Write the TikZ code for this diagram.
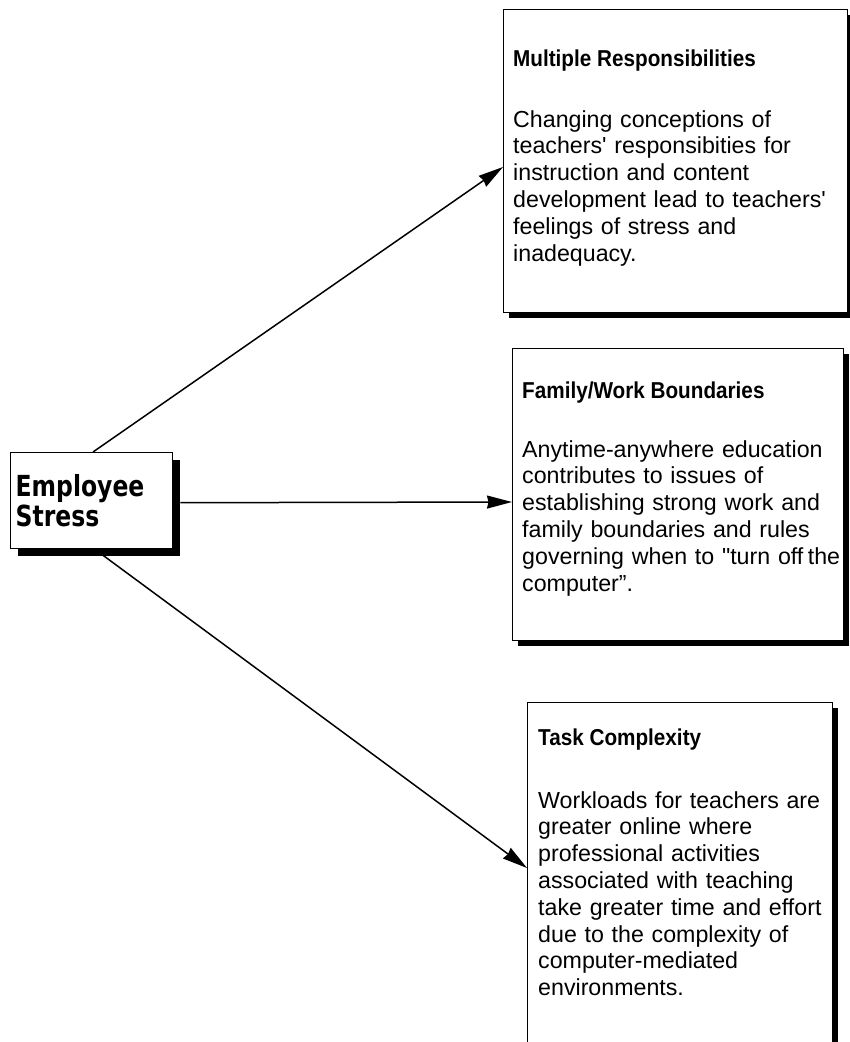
\documentclass[tikz,border=0pt]{standalone}
\usepackage{fontspec}
\newfontfamily\cardfont{Liberation Sans}
\newfontfamily\cardtitlefont[FakeStretch=0.9]{Liberation Sans}
\newfontfamily\empfont[FakeStretch=0.81]{DejaVu Sans}
\usetikzlibrary{arrows.meta,shadows}

\tikzset{
  card/.style={draw=black, line width=1.4pt, fill=white, anchor=north west,
    inner sep=0pt,
    drop shadow={shadow xshift=5pt, shadow yshift=-5pt, opacity=1, fill=black}},
  cardtitle/.style={font=\cardtitlefont\bfseries\fontsize{23}{26}\selectfont,
    anchor=base west, inner sep=0pt},
  cardbody/.style={font=\cardfont\fontsize{23.2}{26.8}\selectfont,
    text width=330pt, align=left, anchor=base west, inner sep=0pt},
  causebox/.style={draw=black, line width=1.4pt, fill=white, anchor=north west,
    minimum width=162pt, minimum height=96pt, text width=152pt, align=left,
    inner xsep=5pt, inner ysep=0pt,
    font=\empfont\bfseries\fontsize{29}{30}\selectfont,
    drop shadow={shadow xshift=7pt, shadow yshift=-7pt, opacity=1, fill=black}},
  link/.style={line width=1.5pt, -{Stealth[length=25pt,width=13pt,inset=1.5pt]}},
}

\begin{document}
\begin{tikzpicture}[x=1pt, y=-1pt]
\useasboundingbox (0,0) rectangle (850,1042);
\clip (0,0) rectangle (850,1042);

% cause
\node[causebox] (emp) at (10,452) {Employee\\Stress};

% effect cards
\node[card, minimum width=344pt, minimum height=303pt] (mr) at (503,9) {};
\node[card, minimum width=331pt, minimum height=292pt] (fw) at (512,348) {};
\node[card, minimum width=305pt, minimum height=360pt] (tc) at (527,702) {};

\node[cardtitle] (mrt) at (513,66) {Multiple Responsibilities};
\node[cardbody] (mrb) at (513,127) {Changing conceptions of\\
  teachers\textquotesingle\ responsibities for\\
  instruction and content\\
  development lead to teachers\textquotesingle\\
  feelings of stress and\\
  inadequacy.};

\node[cardtitle] (fwt) at (522,398) {Family/Work Boundaries};
\node[cardbody] (fwb) at (522,457) {Anytime-anywhere education\\
  contributes to issues of\\
  establishing strong work and\\
  family boundaries and rules\\
  governing when to \textquotedbl turn off\kern4.5pt the\\
  computer\textquotedblright.};

\node[cardtitle] (tct) at (538,745) {Task Complexity};
\node[cardbody] (tcb) at (538,808) {Workloads for teachers are\\
  greater online where\\
  professional activities\\
  associated with teaching\\
  take greater time and effort\\
  due to the complexity of\\
  computer-mediated\\
  environments.};

% connector ends
\coordinate (s1) at ([xshift=83pt]emp.north west);
\coordinate (t1) at ([yshift=-158pt]mr.north west);
\coordinate (s2) at ([xshift=7pt,yshift=-2pt]emp.east);
\coordinate (t2) at ([yshift=-154pt]fw.north west);
\coordinate (s3) at ([xshift=85pt]emp.south west);
\coordinate (t3) at ([yshift=-166pt]tc.north west);

\draw[link] (s1) -- (t1);
\draw[link] (s2) -- (t2);
\draw[link] (s3) -- (t3);
\end{tikzpicture}
\end{document}
